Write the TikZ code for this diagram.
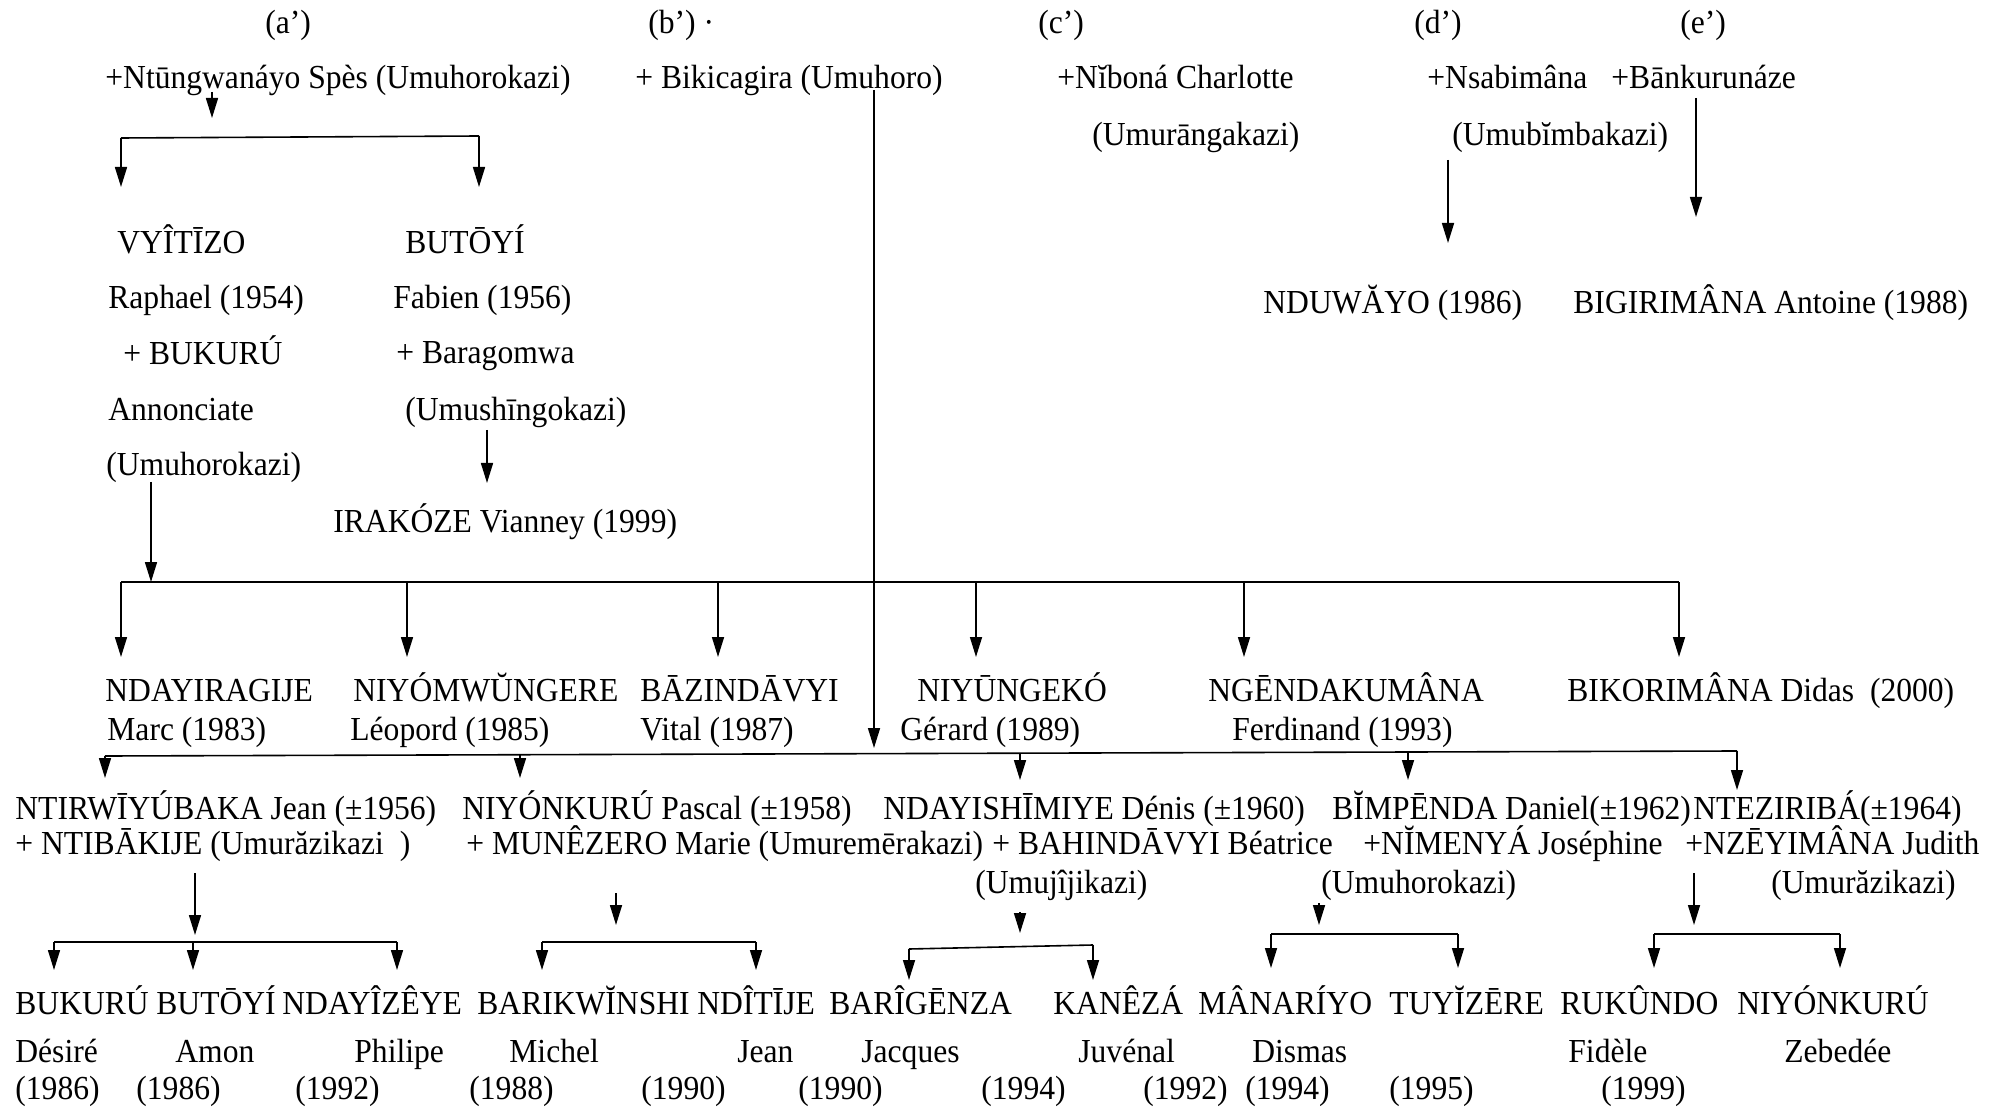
\documentclass[tikz,border=0pt]{standalone}
\usepackage{fontspec}
\setmainfont{Liberation Serif}[FakeStretch=0.94]
\usetikzlibrary{arrows.meta}
\newcommand\myfs{\fontsize{16.8pt}{20pt}\selectfont}
\begin{document}
\begin{tikzpicture}[x=0.5pt,y=-0.5pt,
  txt/.style={inner sep=0pt, anchor=base west, font=\myfs},
  ln/.style={line width=0.8pt},
  arr/.style={ln,-{Triangle[length=10pt,width=6pt]}}]
\fill[white] (0,0) rectangle (1992,1112);
\useasboundingbox (0,0) rectangle (1992,1112);
% ---------- top labels
\node[txt] (la) at (265,34) {(a’)};
\node[txt] (lb) at (648,34) {(b’) ·};
\node[txt] (lc) at (1038,34) {(c’)};
\node[txt] (ld) at (1414,34) {(d’)};
\node[txt] (le) at (1680,34) {(e’)};
\node[txt] (pa) at (105,89) {+Ntūngwanáyo Spès (Umuhorokazi)};
\node[txt] (pb) at (635,89) {+ Bikicagira (Umuhoro)};
\node[txt] (pc) at (1057,89) {+Nĭboná Charlotte};
\node[txt] (pc2) at (1092,146) {(Umurāngakazi)};
\node[txt] (pd) at (1427,89) {+Nsabimâna};
\node[txt] (pd2) at (1452,146) {(Umubĭmbakazi)};
\node[txt] (pe) at (1611,89) {+Bānkurunáze};
% ---------- (a') children
\node[txt] (v1) at (117,254) {VYÎTĪZO};
\node[txt] (v2) at (108,309) {Raphael (1954)};
\node[txt] (v3) at (123,365) {+ BUKURÚ};
\node[txt] (v4) at (108,421) {Annonciate};
\node[txt] (v5) at (106,476) {(Umuhorokazi)};
\node[txt] (u1) at (405,254) {BUTŌYÍ};
\node[txt] (u2) at (393,309) {Fabien (1956)};
\node[txt] (u3) at (396,364) {+ Baragomwa};
\node[txt] (u4) at (405,421) {(Umushīngokazi)};
\node[txt] (ir) at (333,532) {IRAKÓZE Vianney (1999)};
% ---------- (d') (e') children
\node[txt] (nd) at (1263,314) {NDUWĂYO (1986)};
\node[txt] (bg) at (1573,314) {BIGIRIMÂNA Antoine (1988)};
% ---------- generation of Vyitizo
\node[txt] (g1) at (105,701) {NDAYIRAGIJE};
\node[txt] (g1b) at (107,740) {Marc (1983)};
\node[txt] (g2) at (353,701) {NIYÓMWŬNGERE};
\node[txt] (g2b) at (350,740) {Léopord (1985)};
\node[txt] (g3) at (640,701) {BĀZINDĀVYI};
\node[txt] (g3b) at (640,740) {Vital (1987)};
\node[txt] (g4) at (917,701) {NIYŪNGEKÓ};
\node[txt] (g4b) at (900,740) {Gérard (1989)};
\node[txt] (g5) at (1208,701) {NGĒNDAKUMÂNA};
\node[txt] (g5b) at (1232,740) {Ferdinand (1993)};
\node[txt] (g6) at (1567,701) {BIKORIMÂNA Didas\ \ (2000)};
% ---------- children of (b')
\node[txt] (h1) at (15,819) {NTIRWĪYÚBAKA Jean (±1956)};
\node[txt] (h1b) at (15,854) {+ NTIBĀKIJE (Umurăzikazi\ \ )};
\node[txt] (h2) at (462,819) {NIYÓNKURÚ Pascal (±1958)};
\node[txt] (h2b) at (466,854) {+ MUNÊZERO Marie (Umuremērakazi)};
\node[txt] (h3) at (883,819) {NDAYISHĪMIYE Dénis (±1960)};
\node[txt] (h3b) at (992,854) {+ BAHINDĀVYI Béatrice};
\node[txt] (h3c) at (975,893) {(Umujîjikazi)};
\node[txt] (h4) at (1332,819) {BĬMPĒNDA Daniel(±1962)};
\node[txt] (h4b) at (1363,854) {+NĬMENYÁ Joséphine};
\node[txt] (h4c) at (1321,893) {(Umuhorokazi)};
\node[txt] (h5) at (1693,819) {NTEZIRIBÁ(±1964)};
\node[txt] (h5b) at (1685,854) {+NZĒYIMÂNA Judith};
\node[txt] (h5c) at (1771,893) {(Umurăzikazi)};
% ---------- grandchildren
\node[txt] (k1) at (15,1014) {BUKURÚ};
\node[txt] (k1b) at (15,1062) {Désiré};
\node[txt] (k1c) at (15,1099) {(1986)};
\node[txt] (k2) at (156,1014) {BUTŌYÍ};
\node[txt] (k2b) at (175,1062) {Amon};
\node[txt] (k2c) at (136,1099) {(1986)};
\node[txt] (k3) at (282,1014) {NDAYÎZÊYE};
\node[txt] (k3b) at (354,1062) {Philipe};
\node[txt] (k3c) at (295,1099) {(1992)};
\node[txt] (k4) at (477,1014) {BARIKWĬNSHI};
\node[txt] (k4b) at (509,1062) {Michel};
\node[txt] (k4c) at (469,1099) {(1988)};
\node[txt] (k5) at (697,1014) {NDÎTĪJE};
\node[txt] (k5b) at (737,1062) {Jean};
\node[txt] (k5c) at (641,1099) {(1990)};
\node[txt] (k6) at (829,1014) {BARÎGĒNZA};
\node[txt] (k6b) at (861,1062) {Jacques};
\node[txt] (k6c) at (798,1099) {(1990)};
\node[txt] (k7) at (1053,1014) {KANÊZÁ};
\node[txt] (k7b) at (1078,1062) {Juvénal};
\node[txt] (k7c) at (981,1099) {(1994)};
\node[txt] (k8) at (1198,1014) {MÂNARÍYO};
\node[txt] (k8b) at (1252,1062) {Dismas};
\node[txt] (k8c) at (1143,1099) {(1992)};
\node[txt] (k9) at (1389,1014) {TUYĬZĒRE};
\node[txt] (k9c) at (1245,1099) {(1994)};
\node[txt] (k9d) at (1389,1099) {(1995)};
\node[txt] (k10) at (1560,1014) {RUKÛNDO};
\node[txt] (k10b) at (1568,1062) {Fidèle};
\node[txt] (k10c) at (1601,1099) {(1999)};
\node[txt] (k11) at (1737,1014) {NIYÓNKURÚ};
\node[txt] (k11b) at (1784,1062) {Zebedée};
% ================= connectors
% (a') to its two sons
\coordinate (a0) at (212,92); \coordinate (a1) at (212,118);
\draw[arr] (a0) -- (a1);
\coordinate (aL) at (121,138); \coordinate (aR) at (479,136);
\coordinate (aLt) at (121,187); \coordinate (aRt) at (479,187);
\draw[ln] (aL) -- (aR);
\draw[arr] (aL) -- (aLt);
\draw[arr] (aR) -- (aRt);
% Butoyi -> Irakoze
\coordinate (i0) at (487,430); \coordinate (i1) at (487,483);
\draw[arr] (i0) -- (i1);
% Vyitizo -> his children
\coordinate (c0) at (151,482); \coordinate (c1) at (151,582);
\draw[arr] (c0) -- (c1);
\coordinate (gL) at (121,582); \coordinate (gR) at (1679,582);
\draw[ln] (gL) -- (gR);
\foreach \x/\n in {121/1,407/2,718/3,976/4,1244/5,1679/6}{
  \coordinate (gs\n) at (\x,582); \coordinate (gt\n) at (\x,657);
  \draw[arr] (gs\n) -- (gt\n);}
% (b') long line
\coordinate (b0) at (874,90); \coordinate (b1) at (874,748);
\draw[arr] (b0) -- (b1);
\coordinate (hL) at (105,756); \coordinate (hR) at (1737,751);
\draw[ln] (hL) -- (hR);
\foreach \x/\y/\t/\n in {105/756/778/1,520/755/778/2,1020/753/780/3,1408/752/780/4,1737/751/790/5}{
  \coordinate (hs\n) at (\x,\y); \coordinate (ht\n) at (\x,\t);
  \draw[arr] (hs\n) -- (ht\n);}
% (d') (e')
\coordinate (d0) at (1448,160); \coordinate (d1) at (1448,243);
\draw[arr] (d0) -- (d1);
\coordinate (e0) at (1696,98); \coordinate (e1) at (1696,217);
\draw[arr] (e0) -- (e1);
% Ntirwiyubaka family
\coordinate (m10) at (195,873); \coordinate (m11) at (195,935);
\draw[arr] (m10) -- (m11);
\coordinate (m1L) at (54,942); \coordinate (m1R) at (397,942);
\draw[ln] (m1L) -- (m1R);
\foreach \x/\n in {54/a,193/b,397/c}{
  \coordinate (m1s\n) at (\x,942); \coordinate (m1t\n) at (\x,970);
  \draw[arr] (m1s\n) -- (m1t\n);}
% Niyonkuru family
\coordinate (m20) at (616,893); \coordinate (m21) at (616,925);
\draw[arr] (m20) -- (m21);
\coordinate (m2L) at (542,942); \coordinate (m2R) at (756,942);
\draw[ln] (m2L) -- (m2R);
\foreach \x/\n in {542/a,756/b}{
  \coordinate (m2s\n) at (\x,942); \coordinate (m2t\n) at (\x,970);
  \draw[arr] (m2s\n) -- (m2t\n);}
% Ndayishimiye family
\coordinate (m30) at (1020,912); \coordinate (m31) at (1020,933);
\draw[arr] (m30) -- (m31);
\coordinate (m3L) at (909,949); \coordinate (m3R) at (1093,945);
\draw[ln] (m3L) -- (m3R);
\coordinate (m3sa) at (909,949); \coordinate (m3ta) at (909,980);
\draw[arr] (m3sa) -- (m3ta);
\coordinate (m3sb) at (1093,945); \coordinate (m3tb) at (1093,980);
\draw[arr] (m3sb) -- (m3tb);
% Bimpenda family
\coordinate (m40) at (1319,903); \coordinate (m41) at (1319,925);
\draw[arr] (m40) -- (m41);
\coordinate (m4L) at (1271,934); \coordinate (m4R) at (1458,934);
\draw[ln] (m4L) -- (m4R);
\foreach \x/\n in {1271/a,1458/b}{
  \coordinate (m4s\n) at (\x,934); \coordinate (m4t\n) at (\x,968);
  \draw[arr] (m4s\n) -- (m4t\n);}
% Nteziriba family
\coordinate (m50) at (1694,873); \coordinate (m51) at (1694,925);
\draw[arr] (m50) -- (m51);
\coordinate (m5L) at (1654,934); \coordinate (m5R) at (1840,934);
\draw[ln] (m5L) -- (m5R);
\foreach \x/\n in {1654/a,1840/b}{
  \coordinate (m5s\n) at (\x,934); \coordinate (m5t\n) at (\x,968);
  \draw[arr] (m5s\n) -- (m5t\n);}
\end{tikzpicture}
\end{document}
